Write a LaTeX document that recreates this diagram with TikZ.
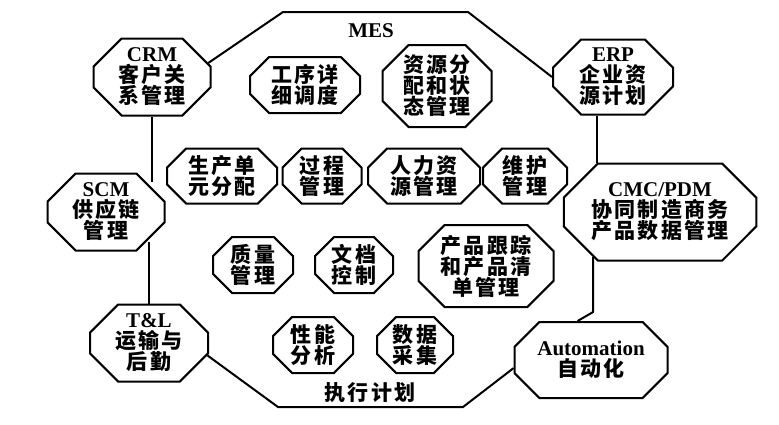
\documentclass[tikz,border=0pt]{standalone}
\usepackage{fontspec}
\setmainfont{Liberation Serif}
\newfontfamily\cjk{Noto Sans CJK SC}[LetterSpace=10]
\newcommand\en[1]{{\rmfamily\bfseries #1}}
\usetikzlibrary{shapes.misc}

\begin{document}
\begin{tikzpicture}[x=0.5pt, y=-0.5pt, line width=1pt,
  oct/.style={draw, chamfered rectangle, chamfered rectangle xsep=#1,
    inner sep=0pt, align=center, font=\cjk\bfseries\fontsize{10.5}{10.5}\selectfont},
  oct/.default=6.5pt]
  \useasboundingbox (0,0) rectangle (779,424);

  % outer systems
  \node[oct=11pt, minimum width=58.5pt, minimum height=38.5pt] (crm) at (152,77) {\en{CRM}\\客户关\\系管理};
  \node[oct=11pt, minimum width=60pt, minimum height=37.5pt] (erp) at (613,77) {\en{ERP}\\企业资\\源计划};
  \node[oct=11pt, minimum width=58.5pt, minimum height=38.5pt] (scm) at (106,212) {\en{SCM}\\供应链\\管理};
  \node[oct=14pt, minimum width=92.5pt, minimum height=48.5pt] (cmc) at (660,212) {\en{CMC/PDM}\\协同制造商务\\产品数据管理};
  \node[oct=11pt, minimum width=59pt, minimum height=38.5pt] (tnl) at (149,343) {\en{T\&L}\\运输与\\后勤};
  \node[oct=11pt, minimum width=76.5pt, minimum height=38pt] (auto) at (591,360) {\en{Automation}\\自动化};

  % MES functions
  \node[oct, minimum width=55pt, minimum height=28pt] (ops) at (305,85) {工序详\\细调度};
  \node[oct=10pt, minimum width=54.5pt, minimum height=41pt] (res) at (437,86) {资源分\\配和状\\态管理};
  \node[oct, minimum width=55pt, minimum height=27.5pt] (unit) at (222,176) {生产单\\元分配};
  \node[oct, minimum width=39.5pt, minimum height=27.5pt] (proc) at (322,176) {过程\\管理};
  \node[oct, minimum width=56pt, minimum height=27.5pt] (hr) at (424,176) {人力资\\源管理};
  \node[oct, minimum width=42pt, minimum height=27.5pt] (mnt) at (525,176) {维护\\管理};
  \node[oct, minimum width=40pt, minimum height=28pt] (qual) at (253,265) {质量\\管理};
  \node[oct, minimum width=39pt, minimum height=28pt] (doc) at (354,265) {文档\\控制};
  \node[oct=10pt, minimum width=67.5pt, minimum height=41pt] (trk) at (486,266) {产品跟踪\\和产品清\\单管理};
  \node[oct, minimum width=40pt, minimum height=28pt] (perf) at (313,345) {性能\\分析};
  \node[oct, minimum width=38pt, minimum height=28pt] (data) at (415,345) {数据\\采集};

  \node[font=\bfseries\fontsize{10.5}{10.5}\selectfont] (mes) at (371,31) {MES};
  \node[font=\cjk\bfseries\fontsize{10.5}{10.5}\selectfont] (plan) at (370,393) {执行计划};

  % MES boundary
  \coordinate (tl) at (283,12);
  \coordinate (tr) at (468,12);
  \coordinate (bend) at (593,312);
  \coordinate (br) at (463,407);
  \coordinate (bl) at (278,407);
  \draw (crm.14) -- (tl) -- (tr) -- (erp.west);
  \draw (erp.south -| cmc.142) -- (cmc.142);
  \draw (cmc.214) -- (cmc.214 |- bend) -- (auto.109);
  \draw (auto.186) -- (br) -- (bl) -- (tnl.348);
  \draw (tnl.north) -- (tnl.north |- scm.-36);
  \draw (crm.south) -- (crm.south |- scm.36);
\end{tikzpicture}
\end{document}
